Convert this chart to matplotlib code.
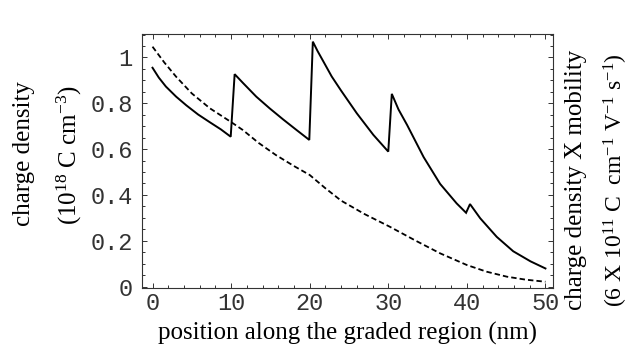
import matplotlib
matplotlib.use("Agg")
import matplotlib.pyplot as plt
from matplotlib.ticker import MultipleLocator

# charge density (solid)
solid_x = [0, 0.8, 1.7, 3.0, 4.3, 5.8, 7.3, 8.7, 9.95, 10.45, 11.5, 13.2, 14.9,
           16.6, 18.3, 19.95, 20.4, 21.0, 21.7, 22.8, 24.0, 26.0, 28.1, 30.0,
           30.45, 31.3, 32.4, 34.5, 36.6, 38.7, 39.9, 40.4, 41.7, 43.8, 45.9,
           48.1, 50.0]
solid_y = [0.955, 0.912, 0.873, 0.829, 0.791, 0.751, 0.717, 0.686, 0.654, 0.927,
           0.889, 0.829, 0.778, 0.730, 0.684, 0.640, 1.069, 1.028, 0.985, 0.917,
           0.855, 0.756, 0.662, 0.589, 0.841, 0.773, 0.705, 0.565, 0.448, 0.363,
           0.322, 0.360, 0.298, 0.217, 0.154, 0.110, 0.079]

# charge density x mobility (dashed)
dash_x = [0, 1.5, 3.0, 5.0, 7.3, 10.0, 11.5, 13.5, 15.7, 18.0, 20.0, 22.0, 24.0,
          27.0, 30.2, 33.5, 36.6, 40.0, 42.5, 45.1, 47.5, 50.0]
dash_y = [1.047, 0.978, 0.916, 0.843, 0.778, 0.718, 0.683, 0.627, 0.574, 0.526,
          0.487, 0.429, 0.375, 0.316, 0.261, 0.200, 0.145, 0.094, 0.065, 0.043,
          0.030, 0.021]

x_ticks = [0, 10, 20, 30, 40, 50]
y_ticks = [0, 0.2, 0.4, 0.6, 0.8, 1]
y_ticklabels = ["0", "0.2", "0.4", "0.6", "0.8", "1"]

plt.rcParams["mathtext.fontset"] = "custom"
plt.rcParams["mathtext.rm"] = "Liberation Serif"
plt.rcParams["mathtext.it"] = "Liberation Serif:italic"

W, H = 633, 351
fig = plt.figure(figsize=(W / 100, H / 100), dpi=100)
ax = fig.add_axes([142.3 / W, 1 - 287.7 / H, (553.3 - 142.3) / W, (287.7 - 34.3) / H])

ax.plot(solid_x, solid_y, color="black", lw=1.4, solid_joinstyle="miter")
ax.plot(dash_x, dash_y, color="black", lw=1.3, linestyle=(0, (3, 1.7)))

ax.set_xlim(-1.3, 51.0)
ax.set_ylim(-0.005, 1.101)

ax.set_xticks(x_ticks)
ax.set_yticks(y_ticks)
ax.set_yticklabels(y_ticklabels)
ax.xaxis.set_minor_locator(MultipleLocator(2))
ax.yaxis.set_minor_locator(MultipleLocator(0.05))
ax.tick_params(which="both", direction="in", top=True, right=True, width=0.7, color="#333333")
ax.tick_params(which="major", length=3.5)
ax.tick_params(which="minor", length=2)
ax.tick_params(axis="x", pad=3)
ax.tick_params(axis="y", pad=7)
for lab in ax.get_xticklabels() + ax.get_yticklabels():
    lab.set_fontfamily("Liberation Mono")
    lab.set_fontsize(17)
    lab.set_color("#333333")
for sp in ax.spines.values():
    sp.set_linewidth(0.8)
    sp.set_color("#333333")

serif = "Liberation Serif"
fig.text(348 / W, 1 - 333 / H, "position along the graded region (nm)",
         ha="center", va="center", fontsize=18, family=serif)
fig.text(24 / W, 1 - 153.5 / H, "charge density", rotation=90,
         ha="center", va="center", fontsize=18, family=serif)
fig.text(69 / W, 1 - 155 / H, r"(10$^{18}$ C cm$^{-3}$)", rotation=90,
         ha="center", va="center", fontsize=18, family=serif)
fig.text(576 / W, 1 - 180 / H, "charge density X mobility", rotation=90,
         ha="center", va="center", fontsize=18, family=serif)
fig.text(616 / W, 1 - 180 / H, r"(6 X 10$^{11}$ C  cm$^{-1}$ V$^{-1}$ s$^{-1}$)",
         rotation=90, ha="center", va="center", fontsize=17, family=serif)

fig.savefig("out.png", dpi=100)
